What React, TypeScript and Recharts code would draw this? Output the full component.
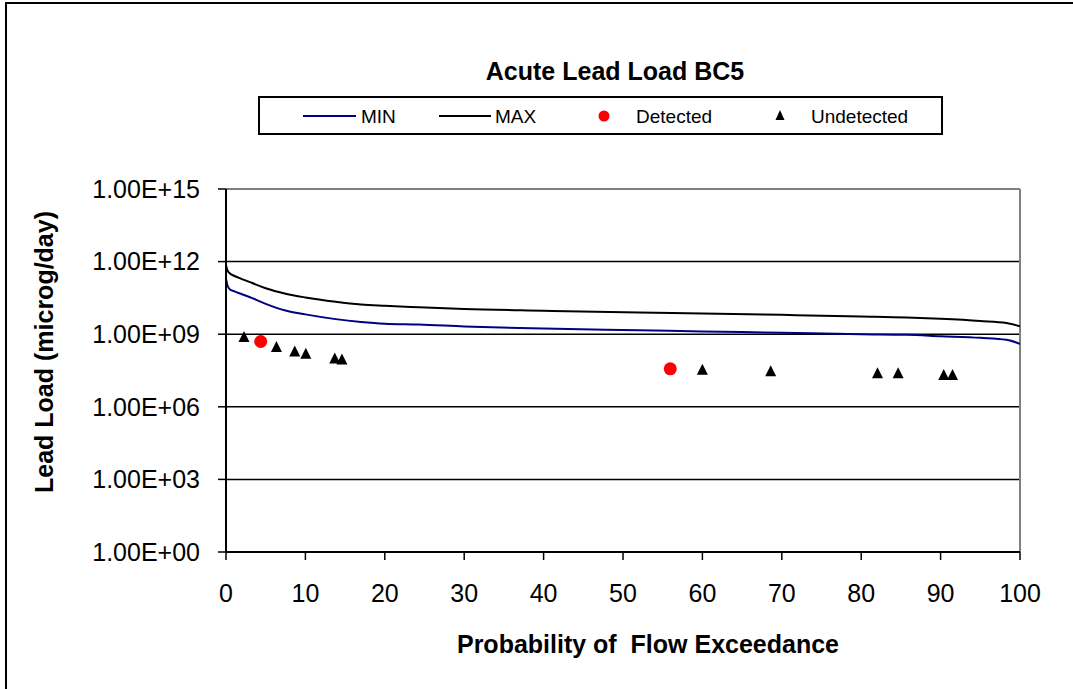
import React from "react";
import {
  ComposedChart,
  Line,
  Scatter,
  XAxis,
  YAxis,
  CartesianGrid,
  ReferenceLine,
} from "recharts";

// ---- data ----
const flowPct = [0, 0.2, 0.5, 1, 2, 3.3, 5, 7.5, 10, 13.8, 17, 20, 24.3, 30, 40, 52, 60, 70, 80, 85.7, 90, 95, 98.3, 100];
const minLoad = [2.0e11, 1.0e11, 7.1e10, 6.0e10, 4.5e10, 3.1e10, 1.8e10, 9.5e9, 6.6e9, 4.2e9, 3.2e9, 2.7e9, 2.5e9, 2.1e9, 1.7e9, 1.45e9, 1.3e9, 1.15e9, 1.0e9, 9.5e8, 8.3e8, 7.1e8, 5.9e8, 4.0e8];
const maxLoad = [7.1e11, 4.2e11, 3.2e11, 2.6e11, 1.9e11, 1.3e11, 7.9e10, 4.7e10, 3.3e10, 2.2e10, 1.7e10, 1.5e10, 1.3e10, 1.1e10, 9.3e9, 7.8e9, 7.2e9, 6.3e9, 5.4e9, 4.9e9, 4.3e9, 3.5e9, 2.9e9, 2.1e9];

const detectedX = [4.37, 55.95];
const detectedY = [5.0e8, 3.7e7];

const undetectedX = [2.27, 6.35, 8.66, 10.05, 13.7, 14.6, 60.0, 68.6, 82.05, 84.65, 90.4, 91.5];
const undetectedY = [7.6e8, 2.95e8, 1.95e8, 1.55e8, 9.8e7, 9.1e7, 3.4e7, 2.95e7, 2.45e7, 2.45e7, 2.05e7, 2.05e7];

const xTicks = [0, 10, 20, 30, 40, 50, 60, 70, 80, 90, 100];
const yTicks = [1, 1e3, 1e6, 1e9, 1e12, 1e15];

const TITLE = "Acute Lead Load BC5";
const X_LABEL = "Probability of  Flow Exceedance";
const Y_LABEL = "Lead Load (microg/day)";
const SERIES_NAMES = ["MIN", "MAX", "Detected", "Undetected"];

// ---- derived tables ----
const curveData = flowPct.map((x, i) => ({ x, min: minLoad[i], max: maxLoad[i] }));
const detectedData = detectedX.map((x, i) => ({ x, y: detectedY[i] }));
const undetectedData = undetectedX.map((x, i) => ({ x, y: undetectedY[i] }));

const FONT = "'Liberation Sans', Arial, sans-serif";

const fmtY = (v: number) => {
  const e = Math.round(Math.log10(v));
  return "1.00E+" + (e < 10 ? "0" + e : String(e));
};

const Triangle = (p: any) => {
  const { cx, cy } = p;
  if (cx == null || cy == null) return null;
  return <polygon points={`${cx},${cy - 6} ${cx - 5.5},${cy + 5} ${cx + 5.5},${cy + 5}`} fill="#000" />;
};

const Dot = (p: any) => {
  const { cx, cy } = p;
  if (cx == null || cy == null) return null;
  return <circle cx={cx} cy={cy} r={6.5} fill="#ff0000" />;
};

export default function App() {
  return (
    <div style={{ position: "absolute", left: 0, top: 0, width: 1073, height: 689, background: "#fff", overflow: "hidden", fontFamily: FONT }}>
      {/* outer frame (only top/left visible) */}
      <div style={{ position: "absolute", left: 5, top: 2, width: 1200, height: 800, borderLeft: "2px solid #000", borderTop: "2px solid #000" }} />
      <div style={{ position: "absolute", left: 0, top: 0 }}>
        <ComposedChart width={1073} height={689} data={curveData} margin={{ top: 189, right: 53, bottom: 0, left: 0 }}>
          <CartesianGrid horizontal={true} vertical={false} stroke="#000" strokeWidth={1.5} horizontalValues={[1e3, 1e6, 1e9, 1e12]} />
          <ReferenceLine y={1e15} stroke="#808080" strokeWidth={2} ifOverflow="visible" />
          <ReferenceLine x={100} stroke="#808080" strokeWidth={2} ifOverflow="visible" />
          <XAxis
            dataKey="x"
            type="number"
            domain={[0, 100]}
            ticks={xTicks}
            interval={0}
            height={137}
            tickSize={8}
            tickMargin={24}
            axisLine={{ stroke: "#000", strokeWidth: 2 }}
            tickLine={{ stroke: "#000", strokeWidth: 1.5 }}
            tick={{ fill: "#000", fontSize: 25, fontFamily: FONT }}
            allowDataOverflow
          />
          <YAxis
            type="number"
            scale="log"
            domain={[1, 1e15]}
            ticks={yTicks}
            interval={0}
            width={226}
            tickSize={8}
            tickMargin={18}
            tickFormatter={fmtY}
            axisLine={{ stroke: "#000", strokeWidth: 2 }}
            tickLine={{ stroke: "#000", strokeWidth: 1.5 }}
            tick={{ fill: "#000", fontSize: 25, fontFamily: FONT }}
            allowDataOverflow
          />
          <Line dataKey="min" type="monotone" stroke="#000080" strokeWidth={2} dot={false} isAnimationActive={false} />
          <Line dataKey="max" type="monotone" stroke="#000000" strokeWidth={2} dot={false} isAnimationActive={false} />
          <Scatter data={detectedData} dataKey="y" shape={Dot} isAnimationActive={false} />
          <Scatter data={undetectedData} dataKey="y" shape={Triangle} isAnimationActive={false} />
        </ComposedChart>
      </div>
      {/* text overlay */}
      <svg width={1073} height={689} style={{ position: "absolute", left: 0, top: 0, pointerEvents: "none" }}>
        <text x={615} y={71} textAnchor="middle" dominantBaseline="central" fontFamily={FONT} fontWeight="bold" fontSize={25} fill="#000">
          {TITLE}
        </text>
        <text x={648} y={644} textAnchor="middle" dominantBaseline="central" fontFamily={FONT} fontWeight="bold" fontSize={25} fill="#000" style={{ whiteSpace: "pre" }}>
          {X_LABEL}
        </text>
        <text x={44} y={352} textAnchor="middle" dominantBaseline="central" fontFamily={FONT} fontWeight="bold" fontSize={25} fill="#000" transform="rotate(-90 44 352)">
          {Y_LABEL}
        </text>
        {/* legend */}
        <rect x={259} y={97} width={683} height={37} fill="#fff" stroke="#000" strokeWidth={2} />
        <line x1={303} x2={356} y1={116} y2={116} stroke="#000080" strokeWidth={2} />
        <text x={361} y={116} dominantBaseline="central" fontFamily={FONT} fontSize={19} fill="#000">{SERIES_NAMES[0]}</text>
        <line x1={439} x2={491} y1={116} y2={116} stroke="#000" strokeWidth={2} />
        <text x={495} y={116} dominantBaseline="central" fontFamily={FONT} fontSize={19} fill="#000">{SERIES_NAMES[1]}</text>
        <circle cx={604} cy={116} r={5.5} fill="#ff0000" />
        <text x={636} y={116} dominantBaseline="central" fontFamily={FONT} fontSize={19} fill="#000">{SERIES_NAMES[2]}</text>
        <polygon points="780,110 775.5,120 784.5,120" fill="#000" />
        <text x={811} y={116} dominantBaseline="central" fontFamily={FONT} fontSize={19} fill="#000">{SERIES_NAMES[3]}</text>
      </svg>
    </div>
  );
}
